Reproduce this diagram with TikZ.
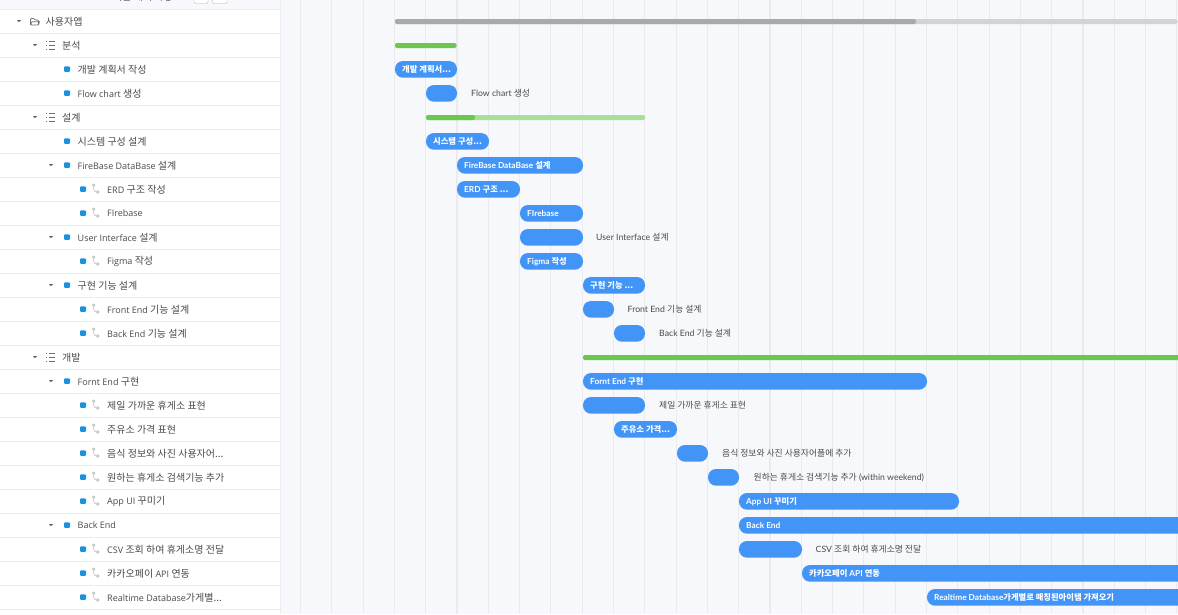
\documentclass[tikz,border=0pt]{standalone}
\usepackage{fontspec}
\setmainfont{Open Sans}
\newfontfamily\krf{Noto Sans CJK KR}
\newfontfamily\latf{Lato}
\definecolor{rowline}{HTML}{EBEDF0}
\definecolor{chartbg}{HTML}{F6F8FB}
\definecolor{gridc}{HTML}{E9EBEF}
\definecolor{barblue}{HTML}{4294F7}
\definecolor{bargreen}{HTML}{6CC74F}
\definecolor{barlight}{HTML}{A9DF98}
\definecolor{bargrey}{HTML}{A9A9AA}
\definecolor{barlgrey}{HTML}{D3D3D3}
\definecolor{txt}{HTML}{4A4A4A}
\definecolor{dotblue}{HTML}{1A8FE3}
\definecolor{icon}{HTML}{6F6F6F}
\definecolor{linkc}{HTML}{B5B5B5}
\newcommand{\ksz}{10}
\newcommand{\K}[1]{{\krf\fontsize{\ksz}{11}\selectfont #1}}
\tikzset{
 x=1pt,y=-1pt,
 lab/.style={anchor=west,inner sep=0pt,font=\renewcommand{\ksz}{8.8}\latf\fontsize{8.7}{10}\selectfont,text=txt},
 side/.style={anchor=west,inner sep=0pt,font=\renewcommand{\ksz}{10}\fontsize{9}{10}\selectfont,text=txt},
 bartxt/.style={anchor=west,inner sep=0pt,font=\renewcommand{\ksz}{8.3}\latf\bfseries\fontsize{8.3}{10}\selectfont,text=white},
 bluebar/.style={fill=barblue,rounded corners=8pt},
 dot/.style={fill=dotblue,rounded corners=1pt},
 link/.style={draw=linkc,line width=.6pt},
 caret/.style={fill=black!65},
 iconl/.style={draw=icon,line width=.8pt}
}
\newcommand{\rowlab}[3]{\node[side] at (#2,#1+.6) {#3};}
\newcommand{\dotat}[2]{\fill[dot] (#1-3,#2-2.6) rectangle (#1+3,#2+2.8);}
\newcommand{\caretat}[2]{\fill[caret] (#1-2,#2-.9) -- (#1+2,#2-.9) -- (#1,#2+1.1) -- cycle;}
\newcommand{\linkat}[1]{\draw[link] (93.7,#1-2.7) .. controls (93.7,#1+1.5) and (94.5,#1+3) .. (96.2,#1+3);
 \draw[link] (93.7,#1-3.9) circle (1.2); \draw[link] (97.6,#1+3) circle (1.3);}
\newcommand{\listat}[1]{\foreach \d in {-3.7,0,3.7}{\draw[iconl] (46,#1+.3+\d) -- (47.4,#1+.3+\d); \draw[iconl] (48.7,#1+.3+\d) -- (54.5,#1+.3+\d);}}
\newcommand{\slab}[3]{\fill[bluebar] (#2,#1-8) rectangle (#3,#1+8.7);}
\newcommand{\barb}[4]{\slab{#1}{#2}{#3}\node[bartxt] at (#2+7,#1+.6) {#4};}
\begin{document}
\begin{tikzpicture}
\useasboundingbox (0,0) rectangle (1178,614);
\fill[chartbg] (0,0) rectangle (1178,614);
\fill[white] (0,9.5) rectangle (280,614);
\draw[rowline,line width=1pt] (280.5,0) -- (280.5,614);
\foreach \k in {0,...,28}{\draw[gridc,line width=1.1pt] (300.5+31.3*\k,0) -- (300.5+31.3*\k,614);}
\foreach \y in {9.5,33.5,...,610}{\draw[rowline,line width=.8pt] (0,\y) -- (280,\y);}
% header fragment
\draw[black!30,fill=white,rounded corners=1.5pt] (194,-4) rectangle (208,3.7);
\draw[black!30,fill=white,rounded corners=1.5pt] (212.5,-4) rectangle (227,3.7);
\node[side] at (113,-3) {\K{기본 계획 사항}};
% left tree
\caretat{19}{21}
\draw[icon,line width=.7pt,rounded corners=.8pt] (30.5,25) -- (30.5,18.5) -- (34,18.5) -- (35,20) -- (38.5,20) -- (38.5,25) -- cycle;
\draw[icon,line width=.7pt] (30.5,25) -- (32,21.7) -- (39.5,21.7) -- (38.5,25);
\rowlab{21}{45.5}{\K{사용자앱}}
\caretat{35}{45}\listat{45}\rowlab{45}{62}{\K{분석}}
\dotat{67}{69}\rowlab{69}{77.5}{\K{개발 계획서 작성}}
\dotat{67}{93}\rowlab{93}{77.5}{Flow chart \K{생성}}
\caretat{35}{117}\listat{117}\rowlab{117}{62}{\K{설계}}
\dotat{67}{141}\rowlab{141}{77.5}{\K{시스템 구성 설계}}
\caretat{51}{165}\dotat{67}{165}\rowlab{165}{77.5}{FireBase DataBase \K{설계}}
\dotat{83}{189}\linkat{189}\rowlab{189}{107}{ERD \K{구조 작성}}
\dotat{83}{213}\linkat{213}\rowlab{213}{107}{FIrebase}
\caretat{51}{237}\dotat{67}{237}\rowlab{237}{77.5}{User Interface \K{설계}}
\dotat{83}{261}\linkat{261}\rowlab{261}{107}{Figma \K{작성}}
\caretat{51}{285}\dotat{67}{285}\rowlab{285}{77.5}{\K{구현 기능 설계}}
\dotat{83}{309}\linkat{309}\rowlab{309}{107}{Front End \K{기능 설계}}
\dotat{83}{333}\linkat{333}\rowlab{333}{107}{Back End \K{기능 설계}}
\caretat{35}{357}\listat{357}\rowlab{357}{62}{\K{개발}}
\caretat{51}{381}\dotat{67}{381}\rowlab{381}{77.5}{Fornt End \K{구현}}
\dotat{83}{405}\linkat{405}\rowlab{405}{107}{\K{제일 가까운 휴게소 표현}}
\dotat{83}{429}\linkat{429}\rowlab{429}{107}{\K{주유소 가격 표현}}
\dotat{83}{453}\linkat{453}\rowlab{453}{107}{\K{음식 정보와 사진 사용자어...}}
\dotat{83}{477}\linkat{477}\rowlab{477}{107}{\K{원하는 휴게소 검색기능 추가}}
\dotat{83}{501}\linkat{501}\rowlab{501}{107}{App UI \K{꾸미기}}
\caretat{51}{525}\dotat{67}{525}\rowlab{525}{77.5}{Back End}
\dotat{83}{549}\linkat{549}\rowlab{549}{107}{CSV \K{조회 하여 휴게소명 전달}}
\dotat{83}{573}\linkat{573}\rowlab{573}{107}{\K{카카오페이} API \K{연동}}
\dotat{83}{597}\linkat{597}\rowlab{597}{107}{Realtime Database\K{가게별...}}
% chart: summary bars
\fill[barlgrey,rounded corners=2pt] (395,19) rectangle (1177.5,24);
\fill[bargrey,rounded corners=2pt] (395,19) rectangle (916,24);
\fill[bargreen,rounded corners=2pt] (395,43) rectangle (456.5,48);
\fill[barlight,rounded corners=2pt] (426,115) rectangle (645,120);
\fill[bargreen,rounded corners=2pt] (426,115) rectangle (475,120);
\fill[bargreen,rounded corners=2pt] (583,355) rectangle (1190,360);
% chart: task bars
\barb{69}{395}{457}{\K{개발 계획서...}}
\slab{93}{426}{457}\node[lab] at (471,93.5) {Flow chart \K{생성}};
\barb{141}{426}{489}{\K{시스템 구성...}}
\barb{165}{457}{583}{FireBase DataBase \K{설계}}
\barb{189}{457}{520}{ERD \K{구조 ...}}
\barb{213}{520}{583}{FIrebase}
\slab{237}{520}{583}\node[lab] at (596,237.5) {User Interface \K{설계}};
\barb{261}{520}{583}{Figma \K{작성}}
\barb{285}{583}{645}{\K{구현 기능 ...}}
\slab{309}{583}{614}\node[lab] at (627.5,309.5) {Front End \K{기능 설계}};
\slab{333}{614}{645}\node[lab] at (659,333.5) {Back End \K{기능 설계}};
\barb{381}{583}{927}{Fornt End \K{구현}}
\slab{405}{583}{645}\node[lab] at (659,405.5) {\K{제일 가까운 휴게소 표현}};
\barb{429}{614}{677}{\K{주유소 가격...}}
\slab{453}{677}{708}\node[lab] at (722,453.5) {\K{음식 정보와 사진 사용자어플에 추가}};
\slab{477}{708}{739}\node[lab] at (753.5,477.5) {\K{원하는 휴게소 검색기능 추가} (within weekend)};
\barb{501}{739}{959}{App UI \K{꾸미기}}
\barb{525}{739}{1190}{Back End}
\slab{549}{739}{802}\node[lab] at (815.5,549.5) {CSV \K{조회 하여 휴게소명 전달}};
\barb{573}{802}{1190}{\K{카카오페이} API \K{연동}}
\barb{597}{927}{1190}{Realtime Database\K{가게별로 매칭된아이템 가져오기}}
\end{tikzpicture}
\end{document}
